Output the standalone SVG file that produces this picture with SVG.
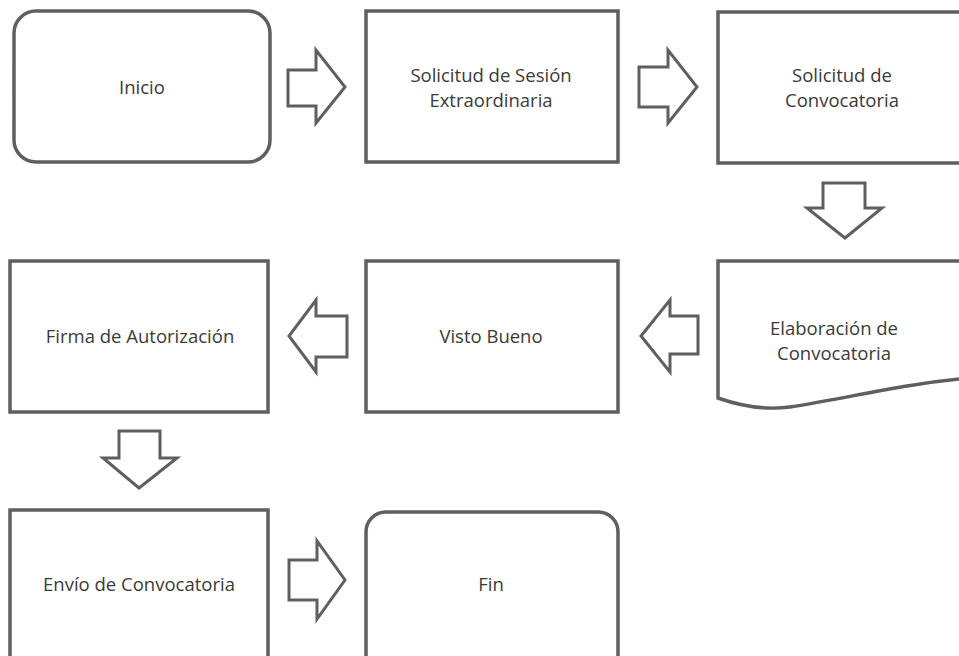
<svg xmlns="http://www.w3.org/2000/svg" width="959" height="656" viewBox="0 0 959 656">
<style>
.box{fill:#fff;stroke:#5f5f5f;stroke-width:3.5}
.arr{fill:#fff;stroke:#5f5f5f;stroke-width:3;stroke-linejoin:miter}
.t{font-family:"Open Sans","Liberation Sans",sans-serif;font-size:18.5px;fill:#3a3a3a;text-anchor:middle}
</style>
<rect width="959" height="656" fill="#fff"/>
<g id="inicio"><rect class="box" x="14" y="11" width="256" height="151" rx="22"/><text class="t" x="142" y="94">Inicio</text></g>
<g id="solicitud-sesion"><rect class="box" x="366" y="11" width="252" height="151"/><text class="t" x="491" y="82">Solicitud de Sesión</text><text class="t" x="491" y="107">Extraordinaria</text></g>
<g id="solicitud-convocatoria"><rect class="box" x="718" y="12" width="260" height="151"/><text class="t" x="842" y="82">Solicitud de</text><text class="t" x="842" y="107">Convocatoria</text></g>
<g id="elaboracion"><path class="box" d="M718,261 H970 V378 C900,384 850,398 790,407 C760,411 735,404 718,398 Z"/><text class="t" x="834" y="335">Elaboración de</text><text class="t" x="834" y="360">Convocatoria</text></g>
<g id="visto-bueno"><rect class="box" x="366" y="261" width="252" height="151"/><text class="t" x="491" y="343">Visto Bueno</text></g>
<g id="firma"><rect class="box" x="10" y="261" width="258" height="151"/><text class="t" x="140" y="343">Firma de Autorización</text></g>
<g id="envio"><rect class="box" x="10" y="510" width="258" height="170"/><text class="t" x="139" y="591">Envío de Convocatoria</text></g>
<g id="fin"><rect class="box" x="366" y="512" width="252" height="170" rx="20"/><text class="t" x="491" y="591">Fin</text></g>
<g id="connectors">
<path class="arr" d="M288,70 H316 V50 L345,87 L316,123 V106 H288 Z"/>
<path class="arr" d="M639,67 H668 V50 L697,87 L668,123 V107 H639 Z"/>
<path class="arr" d="M823,183 H865 V208 H882 L845,238 L807,208 H823 Z"/>
<path class="arr" d="M698,316 H670 V300 L641,336 L670,372 V354 H698 Z"/>
<path class="arr" d="M347,316 H316 V300 L289,336 L316,372 V357 H347 Z"/>
<path class="arr" d="M119,431 H160 V458 H177 L139,488 L103,458 H119 Z"/>
<path class="arr" d="M289,560 H317 V541 L345,580 L317,619 V600 H289 Z"/>
</g>
</svg>
